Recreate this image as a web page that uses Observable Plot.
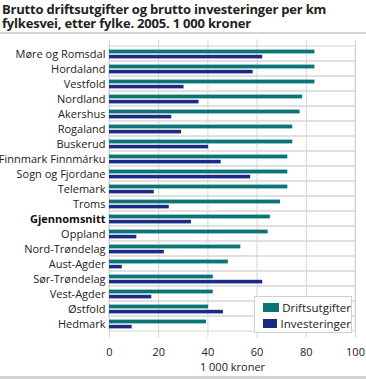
<!DOCTYPE html>
<html>
<head>
<meta charset="utf-8">
<script src="https://cdn.jsdelivr.net/npm/d3@7"></script>
<script src="https://cdn.jsdelivr.net/npm/@observablehq/plot@0.6"></script>
<style>
  html, body { margin: 0; padding: 0; background: #fff; overflow: hidden; }
  body { width: 366px; height: 379px; font-family: "Open Sans", sans-serif; color: #222; position: relative; }
  #title { position: absolute; left: 0; top: 0; width: 366px; font-weight: bold; font-size: 13px; line-height: 14px; padding: 2px 0 0 2px; height: 34px; box-sizing: border-box; border-bottom: 2px solid #d4d4d4; letter-spacing: -0.2px; }
  #chart { position: absolute; left: 0; top: 35px; width: 366px; }
  #chart svg { display: block; max-width: none; overflow: visible; }
  #bottomline { position: absolute; left: 0; top: 376px; width: 366px; height: 3px; background: #d4d4d4; }
  #legend { position: absolute; left: 254px; top: 296px; width: 98px; height: 37px; border: 1px solid #cfcfcf; background: #fff; font-size: 11.5px; box-sizing: border-box; padding: 2px 0 0 8px; }
  #legend div { display: flex; align-items: center; height: 16px; }
  #legend span.sw { display: inline-block; width: 20px; height: 9px; margin-right: 3px; }
</style>
</head>
<body>
<div id="title">Brutto driftsutgifter og brutto investeringer per km fylkesvei, etter fylke. 2005. 1 000 kroner</div>
<div id="chart"></div>
<div id="bottomline"></div>
<script>
const categories = ["Møre og Romsdal","Hordaland","Vestfold","Nordland","Akershus","Rogaland","Buskerud","Finnmark Finnmárku","Sogn og Fjordane","Telemark","Troms","Gjennomsnitt","Oppland","Nord-Trøndelag","Aust-Agder","Sør-Trøndelag","Vest-Agder","Østfold","Hedmark"];
const driftsutgifter = [83.5,83.5,83.5,78.5,77.5,74.5,74.5,72.5,72.5,72.5,69.5,65.4,64.5,53.4,48.3,42.2,42.2,40.3,39.4];
const investeringer = [62.3,58.4,30.3,36.4,25.3,29.3,40.3,45.4,57.4,18.2,24.3,33.3,11.1,22.3,5.2,62.3,17.2,46.3,9.2];
const seriesNames = ["Driftsutgifter","Investeringer"];
const seriesColors = ["#0b7474","#1b2a84"];
const xTicks = [0,20,40,60,80,100];
const xLabel = "1 000 kroner";
const boldCategory = "Gjennomsnitt";

const drift = categories.map((c,i)=>({name:c, value:driftsutgifter[i]}));
const inv = categories.map((c,i)=>({name:c, value:investeringer[i]}));

const plot = Plot.plot({
  width: 366,
  height: 341,
  marginTop: 4.3,
  marginLeft: 109,
  marginRight: 11,
  marginBottom: 38.5,
  style: {fontFamily: "Open Sans, sans-serif", fontSize: "11px", color: "#222", background: "#fff"},
  x: {domain: [0,100], ticks: xTicks, label: xLabel, labelAnchor: "center", labelArrow: "none", tickSize: 0, tickPadding: 10, labelOffset: 33},
  y: {domain: categories, padding: 0, axis: null},
  marks: [
    Plot.barX(categories, {y: d=>d, x1: xTicks[0], x2: xTicks[xTicks.length-1], fill: "none", stroke: "#d6d6d6", strokeWidth: 1}),
    Plot.ruleX(xTicks, {stroke: "#d6d6d6", strokeWidth: 1}),
    Plot.barX(drift, {y: "name", x: "value", fill: seriesColors[0], insetTop: 3.6, insetBottom: 7.6}),
    Plot.barX(inv, {y: "name", x: "value", fill: seriesColors[1], insetTop: 8.8, insetBottom: 2.6}),
    Plot.text(categories.filter(c=>c!==boldCategory), {y: d=>d, text: d=>d, frameAnchor: "left", textAnchor: "end", dx: -4, fill: "#222", fontSize: 11}),
    Plot.text(categories.filter(c=>c===boldCategory), {y: d=>d, text: d=>d, frameAnchor: "left", textAnchor: "end", dx: -4, fill: "#111", fontSize: 11, fontWeight: "bold"})
  ]
});
document.getElementById("chart").appendChild(plot);

const legend = document.createElement("div");
legend.id = "legend";
seriesNames.forEach((n,i)=>{
  const row = document.createElement("div");
  const sw = document.createElement("span");
  sw.className = "sw";
  sw.style.background = seriesColors[i];
  row.appendChild(sw);
  row.appendChild(document.createTextNode(n));
  legend.appendChild(row);
});
document.body.appendChild(legend);
</script>
</body>
</html>
